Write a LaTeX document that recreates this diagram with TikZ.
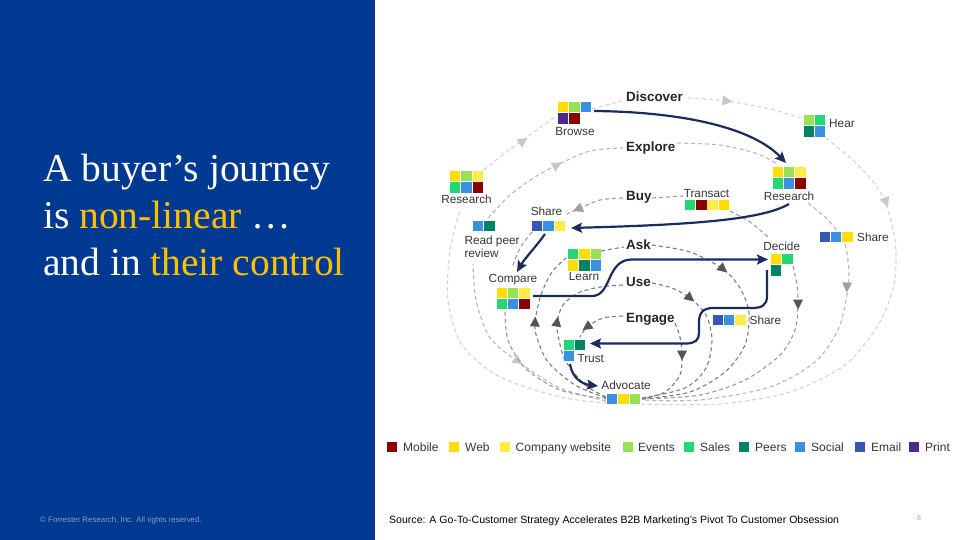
\documentclass[tikz,border=0pt]{standalone}
\usepackage{fontspec}
\setmainfont{Liberation Serif}
\setsansfont{Liberation Sans}
\usetikzlibrary{arrows.meta}
\definecolor{panel}{RGB}{0,57,145}
\definecolor{gold}{RGB}{255,192,0}
\definecolor{navy}{RGB}{26,43,94}
\definecolor{cMob}{RGB}{139,0,0}
\definecolor{cWeb}{RGB}{255,222,0}
\definecolor{cCom}{RGB}{255,236,70}
\definecolor{cEve}{RGB}{150,225,85}
\definecolor{cSal}{RGB}{35,215,115}
\definecolor{cPee}{RGB}{0,130,100}
\definecolor{cSoc}{RGB}{58,145,225}
\definecolor{cEma}{RGB}{58,86,180}
\definecolor{cPri}{RGB}{75,42,140}
\definecolor{dA}{RGB}{212,212,212}
\definecolor{dB}{RGB}{185,185,185}
\definecolor{dC}{RGB}{155,155,155}
\definecolor{dD}{RGB}{125,125,125}
\definecolor{tA}{RGB}{200,200,200}
\definecolor{tB}{RGB}{160,160,160}
\definecolor{tD}{RGB}{85,85,85}
\definecolor{lbl}{RGB}{55,55,55}
\newcommand\sq[3]{\fill[#3] (#1,#2) rectangle ++(10.4,10.4);}
\newcommand\tri[4]{\fill[#4, shift={(#1,#2)}, rotate=#3] (5.5,0) -- (-4.5,5) -- (-4.5,-5) -- cycle;}
\begin{document}
\begin{tikzpicture}[x=1pt,y=-1pt,
  lab/.style={font=\sffamily\fontsize{11.8}{14}\selectfont, text=lbl, inner sep=0pt},
  stage/.style={font=\sffamily\bfseries\fontsize{13.4}{16}\selectfont, text=black!85, inner sep=0pt, anchor=base west},
  ttl/.style={font=\fontsize{39.5}{46}\selectfont, text=white, inner sep=0pt, anchor=base west},
  dsh/.style={line width=1.1pt, dash pattern=on 4pt off 3pt},
  nav/.style={draw=navy, line width=2.2pt, -{Stealth[length=11pt,width=10pt,inset=2pt]}},
  leg/.style={font=\sffamily\fontsize{12}{14}\selectfont, text=lbl, inner sep=0pt, anchor=base west}]
\useasboundingbox (0,0) rectangle (960,540);
\fill[white] (0,0) rectangle (960,540);
\fill[panel] (0,0) rectangle (375,540);
% title
\node[ttl] (t1) at (43,181.7) {A buyer’s journey};
\node[ttl] (t2) at (43,228.3) {is \textcolor{gold}{non-linear} …};
\node[ttl] (t3) at (43,275) {and in \textcolor{gold}{their control}};
\node[anchor=base west, inner sep=0pt, font=\sffamily\fontsize{7.9}{9}\selectfont, text={rgb,255:red,140;green,155;blue,195}] (copy) at (40,522) {© Forrester Research, Inc. All rights reserved.};
\node[anchor=base west, inner sep=0pt, font=\sffamily\fontsize{10.55}{12}\selectfont, text=black] (src) at (389,523.5) {Source: A Go-To-Customer Strategy Accelerates B2B Marketing’s Pivot To Customer Obsession};
\node[anchor=base west, inner sep=0pt, font=\sffamily\fontsize{7}{9}\selectfont, text=black!35] (pg) at (917,520) {8};

% ---------- dashed loops ----------
% Discover (outermost)
\draw[dsh,dA] plot[smooth] coordinates {(607,403) (560,397) (500,377) (462,345) (448,300) (450,250) (460,210)};
\draw[dsh,dA] plot[smooth] coordinates {(484,170) (505,153) (530,135) (556,116)};
\draw[dsh,dA] plot[smooth] coordinates {(592,109) (610,104) (622,101)};
\draw[dsh,dA] plot[smooth] coordinates {(688,98) (727,101) (770,109) (801,118)};
\draw[dsh,dA] plot[smooth] coordinates {(826,138) (858,165) (882,195) (895,240) (894,285) (878,325) (845,365) (790,392) (720,404) (642,404)};
\tri{523}{141}{36}{tA}
\tri{727}{101}{-6}{tA}
\tri{886}{202}{-68}{tA}
% Explore
\draw[dsh,dB] plot[smooth] coordinates {(606,401) (560,388) (520,363) (490,338) (476,300) (473,264)};
\draw[dsh,dB] plot[smooth] coordinates {(488,218) (510,195) (535,177) (557,165) (590,151) (623,148)};
\draw[dsh,dB] plot[smooth] coordinates {(677,143) (720,145) (755,153) (776,163)};
\draw[dsh,dB] plot[smooth] coordinates {(808,203) (830,222) (845,245) (849,275) (846,300) (838,330) (815,362) (770,387) (700,400) (642,400)};
\tri{557}{165}{28}{tA}
\tri{847}{287}{-92}{tB}
\tri{518}{361}{-35}{tA}
% Buy
\draw[dsh,dC] plot[smooth] coordinates {(623,198) (600,200) (578,209) (567,214)};
\draw[dsh,dC] plot[smooth] coordinates {(532,232) (520,248) (512,268)};
\draw[dsh,dC] plot[smooth] coordinates {(505,312) (508,340) (525,368) (560,390) (606,399)};
\draw[dsh,dC] plot[smooth] coordinates {(652,198) (683,196)};
\draw[dsh,dC] plot[smooth] coordinates {(730,211) (750,222) (768,237)};
\draw[dsh,dC] plot[smooth] coordinates {(793,266) (797,285) (798,304) (795,330) (780,355) (745,380) (700,395) (642,399)};
\tri{578}{209}{-157}{tB}
\tri{798}{304}{-90}{tD}
% Ask
\draw[dsh,dD] plot[smooth] coordinates {(606,398) (575,385) (548,362) (537,338) (535,322) (541,295) (552,272) (566,258)};
\draw[dsh,dD] plot[smooth] coordinates {(601,251) (612,249) (624,247)};
\draw[dsh,dD] plot[smooth] coordinates {(652,245) (690,252) (723,269) (740,288) (749,313) (745,345) (725,372) (690,392) (642,399)};
\tri{535}{322}{88}{tD}
\tri{723}{269}{-40}{tD}
% Use
\draw[dsh,dD] plot[smooth] coordinates {(606,397) (585,385) (565,360) (558,335) (557,322) (563,305) (578,293) (600,287) (623,285)};
\draw[dsh,dD] plot[smooth] coordinates {(652,283) (672,288) (690,298) (706,315) (712,340) (706,368) (685,388) (642,398)};
\tri{557}{322}{80}{tD}
\tri{690}{298}{-40}{tD}
% Engage
\draw[dsh,dD] plot[smooth] coordinates {(623,316) (603,318) (587,327) (580,337)};
\draw[dsh,dD] plot[smooth] coordinates {(675,323) (680,337) (682,355) (680,375) (665,392) (642,399)};
\tri{587}{327}{-145}{tD}
\tri{682}{355}{-90}{tD}

% ---------- icons ----------
% Browse
\sq{558}{102}{cWeb}\sq{569.3}{102}{cEve}\sq{580.6}{102}{cSoc}
\sq{558}{113.3}{cPri}\sq{569.3}{113.3}{cMob}
\node[lab, anchor=base] (browse) at (575,136) {Browse};
% Research left
\sq{450}{171}{cWeb}\sq{461.3}{171}{cEve}\sq{472.6}{171}{cCom}
\sq{450}{182.3}{cSal}\sq{461.3}{182.3}{cSoc}\sq{472.6}{182.3}{cMob}
\node[lab, anchor=base] (resL) at (466.5,204) {Research};
% Hear
\sq{803.5}{115}{cEve}\sq{814.8}{115}{cSal}
\sq{803.5}{126.3}{cPee}\sq{814.8}{126.3}{cSoc}
\node[lab, anchor=base west] (hear) at (829,127.5) {Hear};
% Research right
\sq{772.5}{167}{cWeb}\sq{783.8}{167}{cEve}\sq{795.1}{167}{cCom}
\sq{772.5}{178.3}{cSal}\sq{783.8}{178.3}{cSoc}\sq{795.1}{178.3}{cMob}
\node[lab, anchor=base] (resR) at (789,200.7) {Research};
% Transact
\sq{685}{200}{cSal}\sq{696.2}{200}{cMob}\sq{707.4}{200}{cCom}\sq{718.6}{200}{cWeb}
\node[lab, anchor=base] (trans) at (706.5,197.3) {Transact};
% Share mid
\sq{532}{220.5}{cEma}\sq{543.3}{220.5}{cSoc}\sq{554.6}{220.5}{cCom}
\node[lab, anchor=base] (shareM) at (546.5,215.7) {Share};
% Read peer review
\sq{473}{221}{cSoc}\sq{484.3}{221}{cPee}
\node[lab, anchor=base west, align=left] (rpr) at (464.3,244) {Read peer};
\node[lab, anchor=base west] (rpr2) at (464.3,257.7) {review};
% Compare
\sq{496.5}{287.5}{cWeb}\sq{507.8}{287.5}{cEve}\sq{519.1}{287.5}{cCom}
\sq{496.5}{298.8}{cSal}\sq{507.8}{298.8}{cSoc}\sq{519.1}{298.8}{cMob}
\node[lab, anchor=base] (comp) at (513,282.3) {Compare};
% Learn
\sq{568}{249}{cSal}\sq{579.3}{249}{cWeb}\sq{590.6}{249}{cEve}
\sq{568}{260.3}{cWeb}\sq{579.3}{260.3}{cPee}\sq{590.6}{260.3}{cSoc}
\node[lab, anchor=base] (learn) at (584,280.7) {Learn};
% Decide
\sq{771}{254}{cWeb}\sq{782.3}{254}{cSal}
\sq{771}{265.3}{cPee}
\node[lab, anchor=base] (decide) at (781.7,250) {Decide};
% Share right
\sq{819.5}{232}{cEma}\sq{830.8}{232}{cSoc}\sq{842.1}{232}{cWeb}
\node[lab, anchor=base west] (shareR) at (857,241.7) {Share};
% Share bottom
\sq{712.5}{315}{cEma}\sq{723.8}{315}{cSoc}\sq{735.1}{315}{cCom}
\node[lab, anchor=base west] (shareB) at (749.5,324) {Share};
% Trust
\sq{563.5}{339.5}{cSal}\sq{574.8}{339.5}{cPee}
\sq{563.5}{350.8}{cSoc}
\node[lab, anchor=base west] (trust) at (577.3,362.3) {Trust};
% Advocate
\sq{607}{394}{cSoc}\sq{618.3}{394}{cWeb}\sq{629.6}{394}{cEve}
\node[lab, anchor=base] (adv) at (626,389.3) {Advocate};

% stage labels
\node[stage] (discover) at (626,101.7) {Discover};
\node[stage] (explore) at (626,151.7) {Explore};
\node[stage] (buy) at (626,200.7) {Buy};
\node[stage] (ask) at (626,249) {Ask};
\node[stage] (use) at (626,286) {Use};
\node[stage] (engage) at (626,322.7) {Engage};

% ---------- navy arrows ----------
\coordinate (bR) at (594,111);
\coordinate (rT) at (786,163);
\coordinate (rB) at (789,204);
\coordinate (sR) at (571,228);
\coordinate (sB) at (545,234);
\coordinate (cT) at (517,272);
\coordinate (cR) at (533,296);
\coordinate (dL) at (768,259.5);
\coordinate (dB) at (767,270);
\coordinate (tR) at (590,343.5);
\coordinate (tB) at (570,364);
\coordinate (aL) at (598,386);
\draw[nav] (bR) .. controls (690,112) and (755,130) .. (rT);
\draw[nav] (rB) .. controls (760,221) and (680,225) .. (sR);
\draw[nav] (sB) .. controls (535,248) and (525,258) .. (cT);
\draw[nav] (cR) -- (592,296) .. controls (612,296) and (606,259.5) .. (632,259.5) -- (dL);
\draw[nav] (dB) -- (767,296) .. controls (767,305) and (762,308) .. (752,308) -- (713,308) .. controls (703,308) and (699,313) .. (699,322) -- (699,333) .. controls (699,340) and (695,343.5) .. (686,343.5) -- (tR);
\draw[nav] (tB) .. controls (572,378) and (582,384) .. (aL);

% ---------- legend ----------
\sq{387}{441.5}{cMob}\node[leg] (lg1) at (403,451.5) {Mobile};
\sq{449}{441.5}{cWeb}\node[leg] (lg2) at (465,451.5) {Web};
\sq{500}{441.5}{cCom}\node[leg] (lg3) at (515.5,451.5) {Company website};
\sq{622.5}{441.5}{cEve}\node[leg] (lg4) at (638,451.5) {Events};
\sq{684}{441.5}{cSal}\node[leg] (lg5) at (700,451.5) {Sales};
\sq{739}{441.5}{cPee}\node[leg] (lg6) at (755,451.5) {Peers};
\sq{795}{441.5}{cSoc}\node[leg] (lg7) at (811,451.5) {Social};
\sq{855}{441.5}{cEma}\node[leg] (lg8) at (871,451.5) {Email};
\sq{909}{441.5}{cPri}\node[leg] (lg9) at (925,451.5) {Print};
\end{tikzpicture}
\end{document}
